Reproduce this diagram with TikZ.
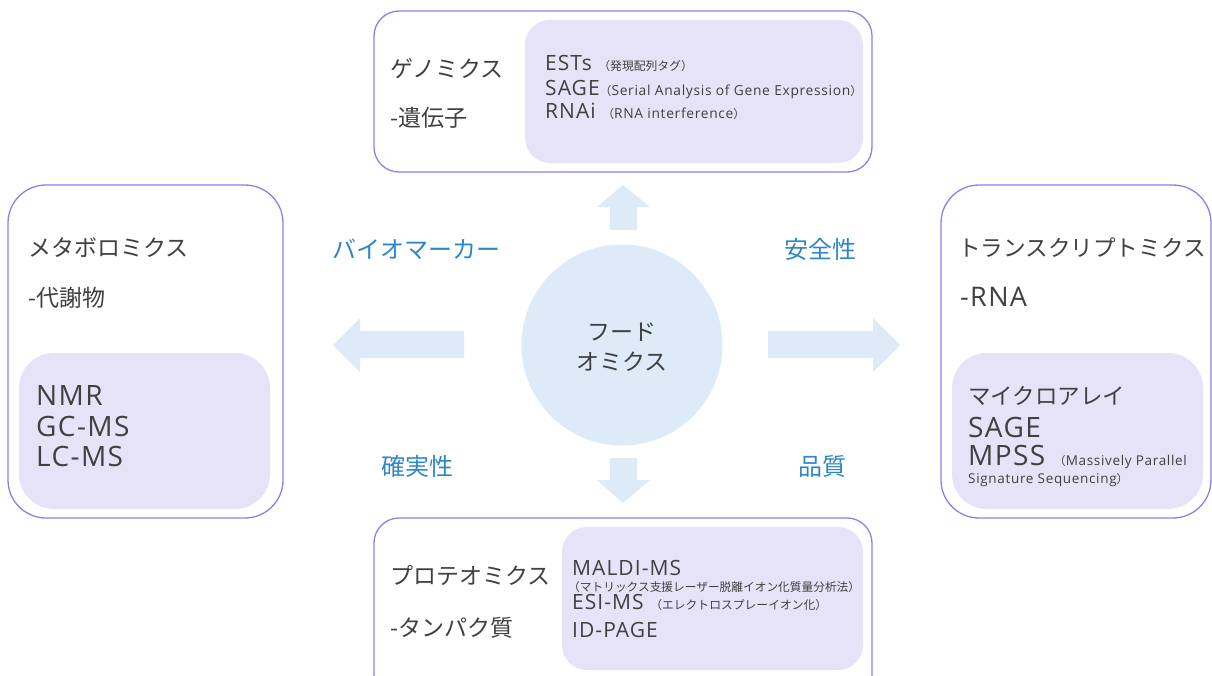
\documentclass[tikz,border=0pt]{standalone}
\usepackage{fontspec}
\setmainfont{Noto Sans CJK JP}
\newfontfamily\lat[LetterSpace=5]{Open Sans}
\definecolor{bordercol}{HTML}{8E80E3}
\definecolor{innerfill}{HTML}{E6E3F8}
\definecolor{lblue}{HTML}{DCEBF7}
\definecolor{labelblue}{HTML}{2E86C6}
\definecolor{txt}{HTML}{404040}
\tikzset{
  outerbox/.style={draw=bordercol, line width=1.3pt, fill=white, rectangle, inner sep=0pt},
  innerbox/.style={fill=innerfill, rectangle, inner sep=0pt},
  head/.style={anchor=base west, inner sep=0pt, text=txt, font=\fontsize{23}{28}\selectfont},
  big/.style={anchor=base west, inner sep=0pt, text=txt, font=\fontsize{21}{25}\selectfont\lat},
  huge/.style={anchor=base west, inner sep=0pt, text=txt, font=\fontsize{28}{31}\selectfont\lat},
  lbl/.style={inner sep=0pt, text=labelblue, font=\fontsize{24}{28}\selectfont},
  blockarrow/.style={fill=lblue},
}
\newcommand{\smalljp}[1]{{\fontsize{11.8}{15}\selectfont\rmfamily #1}}
\newcommand{\smalllat}[1]{{\fontsize{13.8}{15}\selectfont\lat #1}}
\begin{document}
\begin{tikzpicture}[x=1pt,y=-1pt]
\useasboundingbox (0,0) rectangle (1212,675);
\clip (0,0) rectangle (1212,675);
\fill[white] (0,0) rectangle (1212,675);

% center
\node[circle, fill=lblue, minimum size=201pt, inner sep=0pt] (food) at (622,345) {};
\node[inner sep=0pt, text=txt, font=\fontsize{23}{30}\selectfont, align=center] (foodtxt) at (622,347) {フード\\オミクス};

% block arrows
\fill[blockarrow] (623,185) -- (650,207) -- (637,207) -- (637,230) -- (610,230) -- (610,207) -- (597,207) -- cycle;
\fill[blockarrow] (623,503) -- (650,480) -- (637,480) -- (637,458) -- (610,458) -- (610,480) -- (597,480) -- cycle;
\fill[blockarrow] (333,345) -- (360,318) -- (360,331) -- (464,331) -- (464,358) -- (360,358) -- (360,372) -- cycle;
\fill[blockarrow] (900,345) -- (873,318) -- (873,331) -- (768,331) -- (768,358) -- (873,358) -- (873,372) -- cycle;

% labels
\node[lbl] (bm) at (416,249) {バイオマーカー};
\node[lbl] (safe) at (820,249) {安全性};
\node[lbl] (sure) at (417,466) {確実性};
\node[lbl] (qual) at (822,466) {品質};

% top box: genomics
\node[outerbox, rounded corners=25pt, minimum width=498pt, minimum height=161pt] (gen) at (623,91.5) {};
\node[innerbox, rounded corners=25pt, minimum width=338pt, minimum height=143pt] (genin) at (694,91.5) {};
\node[head] (gen1) at (390,77) {ゲノミクス};
\node[head] (gen2) at (390,126) {-遺伝子};
\node[big] (gen3) at (545,70) {ESTs \smalljp{（発現配列タグ）}};
\node[big] (gen4) at (545,95) {SAGE\smalljp{（}\smalllat{Serial Analysis of Gene Expression}\smalljp{）}};
\node[big] (gen5) at (545,118) {RNAi \smalljp{（}\smalllat{RNA interference}\smalljp{）}};

% left box: metabolomics
\node[outerbox, rounded corners=38pt, minimum width=275pt, minimum height=333pt] (met) at (145.5,351.5) {};
\node[innerbox, rounded corners=35pt, minimum width=251pt, minimum height=156pt] (metin) at (144.5,431) {};
\node[head] (met1) at (28,256) {メタボロミクス};
\node[head] (met2) at (28,306) {-代謝物};
\node[huge] (met3) at (36,405) {NMR};
\node[huge] (met4) at (36,436) {GC-MS};
\node[huge] (met5) at (36,466) {LC-MS};

% right box: transcriptomics
\node[outerbox, rounded corners=38pt, minimum width=270pt, minimum height=333pt] (tra) at (1076,351.5) {};
\node[innerbox, rounded corners=35pt, minimum width=251pt, minimum height=156pt] (train) at (1077.5,431) {};
\node[head, font=\fontsize{22.6}{28}\selectfont] (tra1) at (958,256) {トランスクリプトミクス};
\node[head, font=\fontsize{27}{30}\selectfont\lat] (tra2) at (960,306) {-RNA};
\node[head, font=\fontsize{22.5}{28}\selectfont] (tra3) at (968,404) {マイクロアレイ};
\node[huge] (tra4) at (968,437) {SAGE};
\node[huge] (tra5) at (968,465) {MPSS \smalljp{（}{\fontsize{13.5}{15}\selectfont Massively Parallel}};
\node[anchor=base west, inner sep=0pt, text=txt, font=\fontsize{13.5}{15}\selectfont\lat] (tra6) at (968,483) {Signature Sequencing\smalljp{）}};

% bottom box: proteomics
\node[outerbox, rounded corners=25pt, minimum width=498pt, minimum height=182pt] (pro) at (623,609) {};
\node[innerbox, rounded corners=25pt, minimum width=301pt, minimum height=143pt] (proin) at (712.5,598.5) {};
\node[head] (pro1) at (390,584) {プロテオミクス};
\node[head] (pro2) at (390,636) {-タンパク質};
\node[big] (pro3) at (572,575) {MALDI-MS};
\node[anchor=base west, inner sep=0pt, text=txt, font=\fontsize{11.7}{13}\selectfont] (pro4) at (568,591) {（マトリックス支援レーザー脱離イオン化質量分析法）};
\node[big] (pro5) at (572,609) {ESI-MS \smalljp{（エレクトロスプレーイオン化）}};
\node[big] (pro6) at (572,637) {ID-PAGE};
\end{tikzpicture}
\end{document}
